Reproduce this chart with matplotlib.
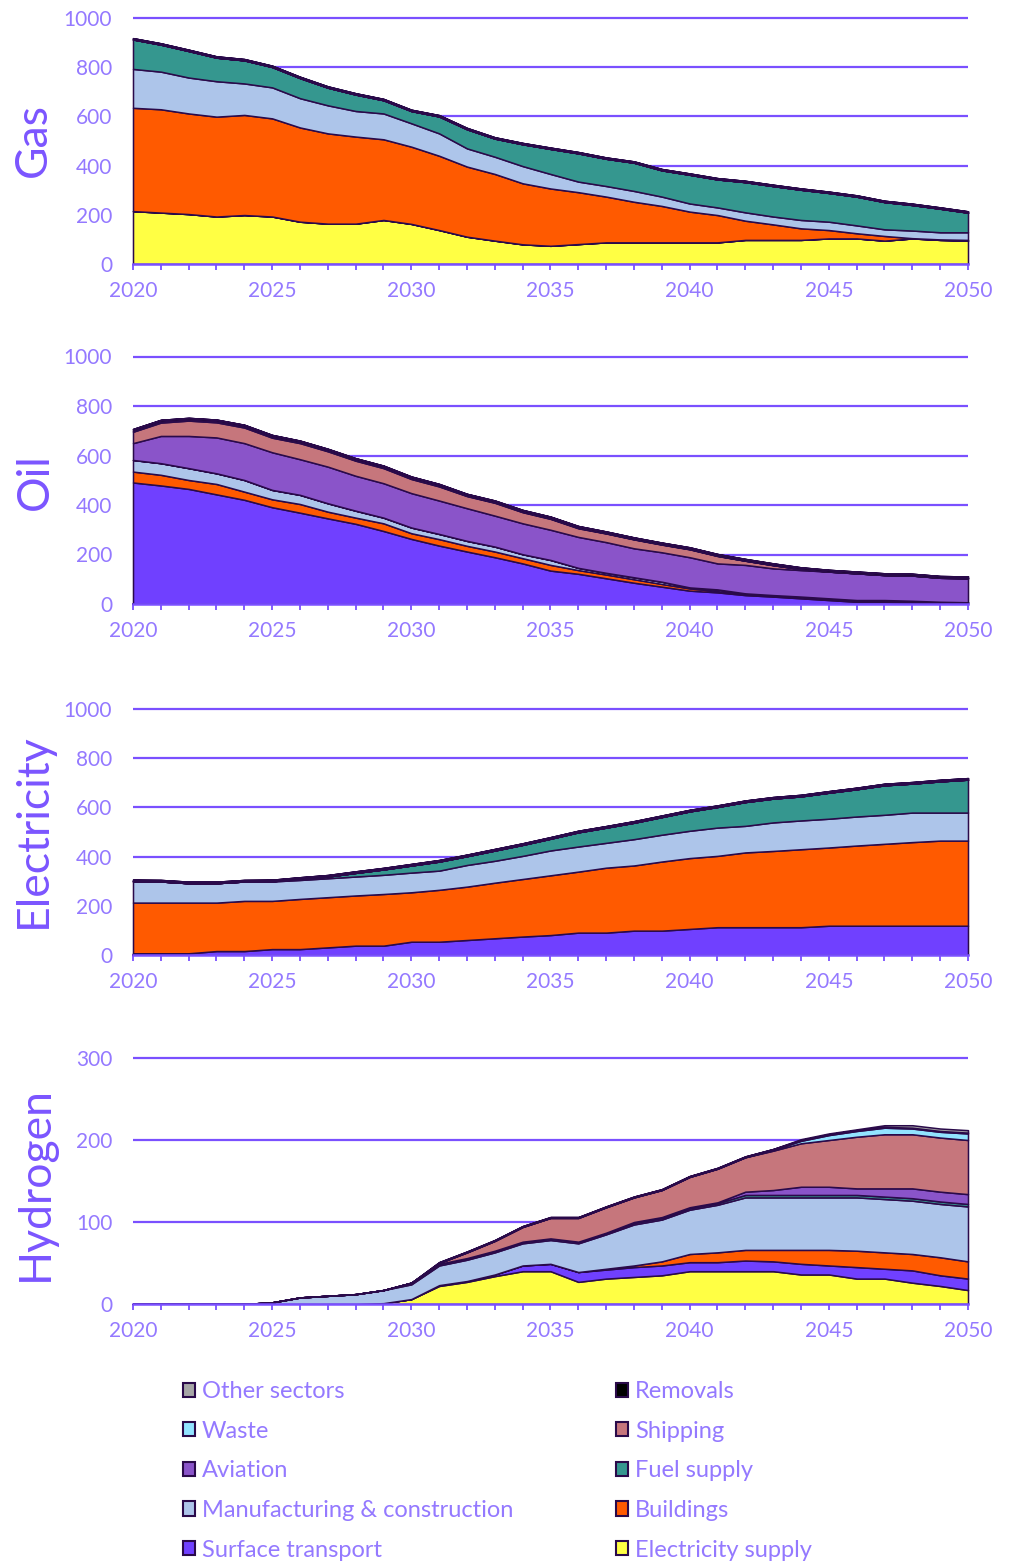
import matplotlib
matplotlib.use("Agg")
import matplotlib.pyplot as plt
from matplotlib.patches import Patch
from matplotlib.ticker import MultipleLocator

# ---------------- data ----------------
years = list(range(2020, 2051))
sectors = ["Electricity supply", "Surface transport", "Buildings",
           "Manufacturing & construction", "Fuel supply", "Aviation",
           "Shipping", "Waste", "Removals", "Other sectors"]
sector_colors = ["#FFFF44", "#7040FF", "#FF5A00", "#ADC5EA", "#35978F",
                 "#8A54C9", "#C6767C", "#92E3FF", "#000000", "#A6A6A6"]
zeros = [0] * 31

# Gas
gas_electricity_supply = [215, 209, 203, 193, 199, 193, 172, 164, 164, 179, 163, 138, 111, 95, 80, 74,
                          81, 88, 88, 88, 88, 88, 98, 98, 98, 104, 104, 95, 104, 98, 95]
gas_surface_transport = zeros
gas_buildings = [420, 420, 409, 406, 407, 399, 383, 367, 354, 328, 314, 302, 285, 271, 248, 233,
                 211, 186, 165, 148, 125, 111, 78, 63, 47, 34, 21, 19, 1, 2, 3]
gas_manufacturing = [158, 153, 146, 144, 128, 126, 119, 114, 104, 105, 95, 91, 74, 70, 70, 59,
                     43, 43, 44, 38, 33, 31, 34, 32, 34, 34, 32, 27, 31, 29, 31]
gas_fuel_supply = [120, 110, 108, 96, 94, 83, 82, 72, 67, 54, 50, 69, 78, 74, 89, 102,
                   115, 111, 115, 107, 117, 114, 123, 124, 123, 117, 117, 111, 104, 96, 80]
gas_aviation = zeros
gas_shipping = zeros
gas_waste = zeros
gas_removals = [5] * 31
gas_other = zeros

# Oil
oil_electricity_supply = zeros
oil_surface_transport = [491, 479, 465, 443, 421, 391, 369, 346, 324, 295, 263, 236, 212, 189, 164, 135,
                         122, 104, 86, 70, 54, 47, 36, 30, 23, 16, 9, 9, 7, 5, 5]
oil_buildings = [44, 43, 36, 42, 33, 32, 35, 27, 25, 31, 23, 26, 23, 23, 21, 23,
                 15, 15, 14, 11, 9, 5, 4, 3, 3, 3, 3, 3, 3, 2, 1]
oil_manufacturing = [47, 47, 48, 43, 47, 38, 37, 34, 28, 23, 23, 21, 20, 20, 16, 20,
                     9, 7, 8, 9, 4, 7, 3, 3, 4, 4, 4, 4, 3, 2, 1]
oil_fuel_supply = zeros
oil_aviation = [68, 110, 130, 145, 149, 152, 144, 148, 141, 139, 139, 135, 132, 125, 125, 122,
                125, 124, 117, 119, 122, 105, 115, 108, 107, 108, 108, 101, 102, 97, 97]
oil_shipping = [46, 54, 62, 61, 63, 59, 65, 62, 61, 61, 57, 57, 49, 52, 45, 44,
                35, 35, 36, 31, 32, 30, 17, 13, 4, 0, 0, 0, 0, 0, 0]
oil_waste = [4, 4, 4, 4, 4, 4, 3, 3, 3, 3, 3, 3, 2, 2, 2, 2,
             2, 1, 1, 1, 1, 1, 0, 0, 0, 0, 0, 0, 0, 0, 0]
oil_removals = [7] * 31
oil_other = zeros

# Electricity
ele_electricity_supply = zeros
ele_surface_transport = [7, 7, 7, 16, 16, 24, 24, 31, 38, 38, 54, 54, 61, 68, 75, 81,
                         91, 91, 99, 99, 106, 113, 113, 113, 113, 119, 119, 119, 119, 119, 119]
ele_buildings = [206, 206, 206, 197, 204, 196, 204, 204, 204, 210, 201, 211, 217, 226, 234, 243,
                 248, 264, 265, 281, 288, 290, 304, 310, 317, 318, 326, 333, 340, 346, 346]
ele_manufacturing = [86, 86, 79, 79, 79, 79, 77, 77, 77, 78, 80, 78, 88, 89, 94, 101,
                     102, 101, 107, 109, 111, 115, 108, 116, 117, 117, 118, 118, 120, 114, 114]
ele_fuel_supply = [1, 0, 0, 0, 0, 1, 5, 7, 15, 22, 29, 37, 36, 42, 45, 48,
                   58, 62, 67, 72, 79, 84, 97, 97, 98, 106, 111, 120, 118, 127, 134]
ele_aviation = zeros
ele_shipping = zeros
ele_waste = zeros
ele_removals = [6] * 31
ele_other = zeros

# Hydrogen
h2_electricity_supply = [0, 0, 0, 0, 0, 0, 0, 0, 0, 1, 6, 22, 27, 34, 40, 40,
                         27, 31, 33, 35, 40, 40, 40, 40, 36, 36, 31, 31, 26, 22, 17]
h2_surface_transport = [0, 0, 0, 0, 0, 0, 0, 0, 0, 0, 0, 1, 1, 2, 7, 9,
                        12, 11, 12, 12, 11, 11, 13, 12, 13, 11, 14, 12, 15, 13, 14]
h2_buildings = [0, 0, 0, 0, 0, 0, 0, 0, 0, 0, 0, 0, 0, 0, 0, 0,
                0, 1, 2, 5, 10, 12, 13, 14, 17, 19, 20, 20, 20, 22, 21]
h2_manufacturing = [0, 0, 0, 0, 0, 2, 8, 10, 12, 16, 18, 24, 26, 27, 27, 29,
                    35, 42, 50, 51, 54, 58, 64, 64, 64, 64, 65, 65, 65, 65, 67]
h2_fuel_supply = [0, 0, 0, 0, 0, 0, 0, 0, 0, 0, 2, 2, 2, 2, 2, 2,
                  2, 2, 2, 2, 2, 2, 3, 3, 3, 3, 3, 3, 3, 3, 3]
h2_aviation = [0, 0, 0, 0, 0, 0, 0, 0, 0, 0, 0, 0, 0, 0, 0, 0,
               0, 0, 1, 1, 1, 1, 4, 6, 10, 10, 8, 10, 12, 12, 12]
h2_shipping = [0, 0, 0, 0, 0, 0, 0, 0, 0, 0, 0, 1, 7, 12, 18, 25,
               29, 31, 30, 33, 37, 41, 42, 48, 53, 57, 63, 66, 66, 66, 66]
h2_waste = [0, 0, 0, 0, 0, 0, 0, 0, 0, 0, 0, 0, 0, 0, 0, 0,
            0, 0, 0, 0, 0, 0, 0, 1, 3, 6, 7, 8, 7, 7, 8]
h2_removals = [0, 0, 0, 0, 0, 0, 0, 0, 0, 0, 0, 1, 1, 1, 1, 1,
               1, 1, 1, 1, 1, 1, 1, 1, 1, 1, 1, 1, 1, 1, 1]
h2_other = [0, 0, 0, 0, 0, 0, 0, 0, 0, 0, 0, 0, 0, 0, 0, 0,
            0, 0, 0, 0, 0, 0, 0, 0, 1, 1, 1, 2, 3, 3, 3]

panel_names = ["Gas", "Oil", "Electricity", "Hydrogen"]
panel_ymax = [1000, 1000, 1000, 300]
panel_ystep = [200, 200, 200, 100]

# ---------------- style ----------------
EDGE = "#2A0A4A"
GRID = "#7A50FF"
TICKTXT = "#9479FF"
TITLE = "#7B55FF"
FONT = ["Lato", "DejaVu Sans"]
plt.rcParams["font.family"] = FONT
plt.rcParams["font.weight"] = "normal"

W, H = 1010, 1564
fig = plt.figure(figsize=(W / 100, H / 100), dpi=100)

# pixel geometry (layout only)
panel_top_px = [18, 356.5, 709, 1058]
panel_bot_px = [264, 604, 955, 1304]
title_xy_px = [(33, 140), (35, 482), (33, 831), (35, 1184)]
X0, X1 = 133, 968
XPAD = 0.3

panel_series = [
    [gas_electricity_supply, gas_surface_transport, gas_buildings, gas_manufacturing,
     gas_fuel_supply, gas_aviation, gas_shipping, gas_waste, gas_removals, gas_other],
    [oil_electricity_supply, oil_surface_transport, oil_buildings, oil_manufacturing,
     oil_fuel_supply, oil_aviation, oil_shipping, oil_waste, oil_removals, oil_other],
    [ele_electricity_supply, ele_surface_transport, ele_buildings, ele_manufacturing,
     ele_fuel_supply, ele_aviation, ele_shipping, ele_waste, ele_removals, ele_other],
    [h2_electricity_supply, h2_surface_transport, h2_buildings, h2_manufacturing,
     h2_fuel_supply, h2_aviation, h2_shipping, h2_waste, h2_removals, h2_other],
]

for i, name in enumerate(panel_names):
    ymax = panel_ymax[i]
    top, bot = panel_top_px[i], panel_bot_px[i]
    ypad = 0.012 * ymax
    ppu = (bot - top) / ymax
    ax_top = top - ypad * ppu
    ppy = (X1 - X0) / 30
    left = X0 - XPAD * ppy
    right = X1 + XPAD * ppy
    ax = fig.add_axes([left / W, 1 - bot / H, (right - left) / W, (bot - ax_top) / H])
    ax.set_xlim(2020 - XPAD, 2050 + XPAD)
    ax.set_ylim(0, ymax + ypad)

    cols = list(sector_colors)
    if name == "Oil":
        cols[7] = "#A8D400"
    ax.stackplot(years, *panel_series[i], colors=cols, edgecolor=EDGE,
                 linewidth=1.1, zorder=2)

    yt = list(range(0, ymax + 1, panel_ystep[i]))
    ax.hlines(yt[1:], 2020, 2050, colors=GRID, linewidth=1.6, zorder=1)
    ax.set_yticks(yt)
    ax.set_yticklabels([str(v) for v in yt])
    ax.tick_params(axis="y", length=0, pad=9, labelsize=15, labelcolor=TICKTXT)

    ax.xaxis.set_major_locator(MultipleLocator(5))
    ax.xaxis.set_minor_locator(MultipleLocator(1))
    ax.tick_params(axis="x", which="both", direction="out", length=4.5, width=1.3,
                   color=GRID, pad=8, labelsize=15, labelcolor=TICKTXT)
    ax.set_xticks(range(2020, 2051, 5))
    ax.set_xticklabels([str(y) for y in range(2020, 2051, 5)])

    for s in ["top", "right", "left"]:
        ax.spines[s].set_visible(False)
    ax.spines["bottom"].set_color(GRID)
    ax.spines["bottom"].set_linewidth(1.8)
    ax.spines["bottom"].set_bounds(2020, 2050)
    ax.spines["bottom"].set_zorder(3)
    ax.set_facecolor("none")

    tx, ty = title_xy_px[i]
    fig.text(tx / W, 1 - ty / H, name, rotation=90, fontsize=32, color=TITLE,
             ha="center", va="center")

# ---------------- legend ----------------
handles = [Patch(facecolor=c, edgecolor=EDGE, linewidth=1.5) for c in sector_colors]
col1 = ["Other sectors", "Waste", "Aviation", "Manufacturing & construction", "Surface transport"]
col2 = ["Removals", "Shipping", "Fuel supply", "Buildings", "Electricity supply"]
for labels, xpx in [(col1, 183), (col2, 616)]:
    hs = [handles[sectors.index(l)] for l in labels]
    fig.legend(hs, labels, loc="upper left", bbox_to_anchor=(xpx / W, 1 - 1381 / H),
               frameon=False, fontsize=17, labelcolor=TICKTXT, handlelength=0.5,
               handleheight=0.55, handletextpad=0.3, labelspacing=0.79,
               borderpad=0, borderaxespad=0)

fig.savefig("out.png", dpi=100)
